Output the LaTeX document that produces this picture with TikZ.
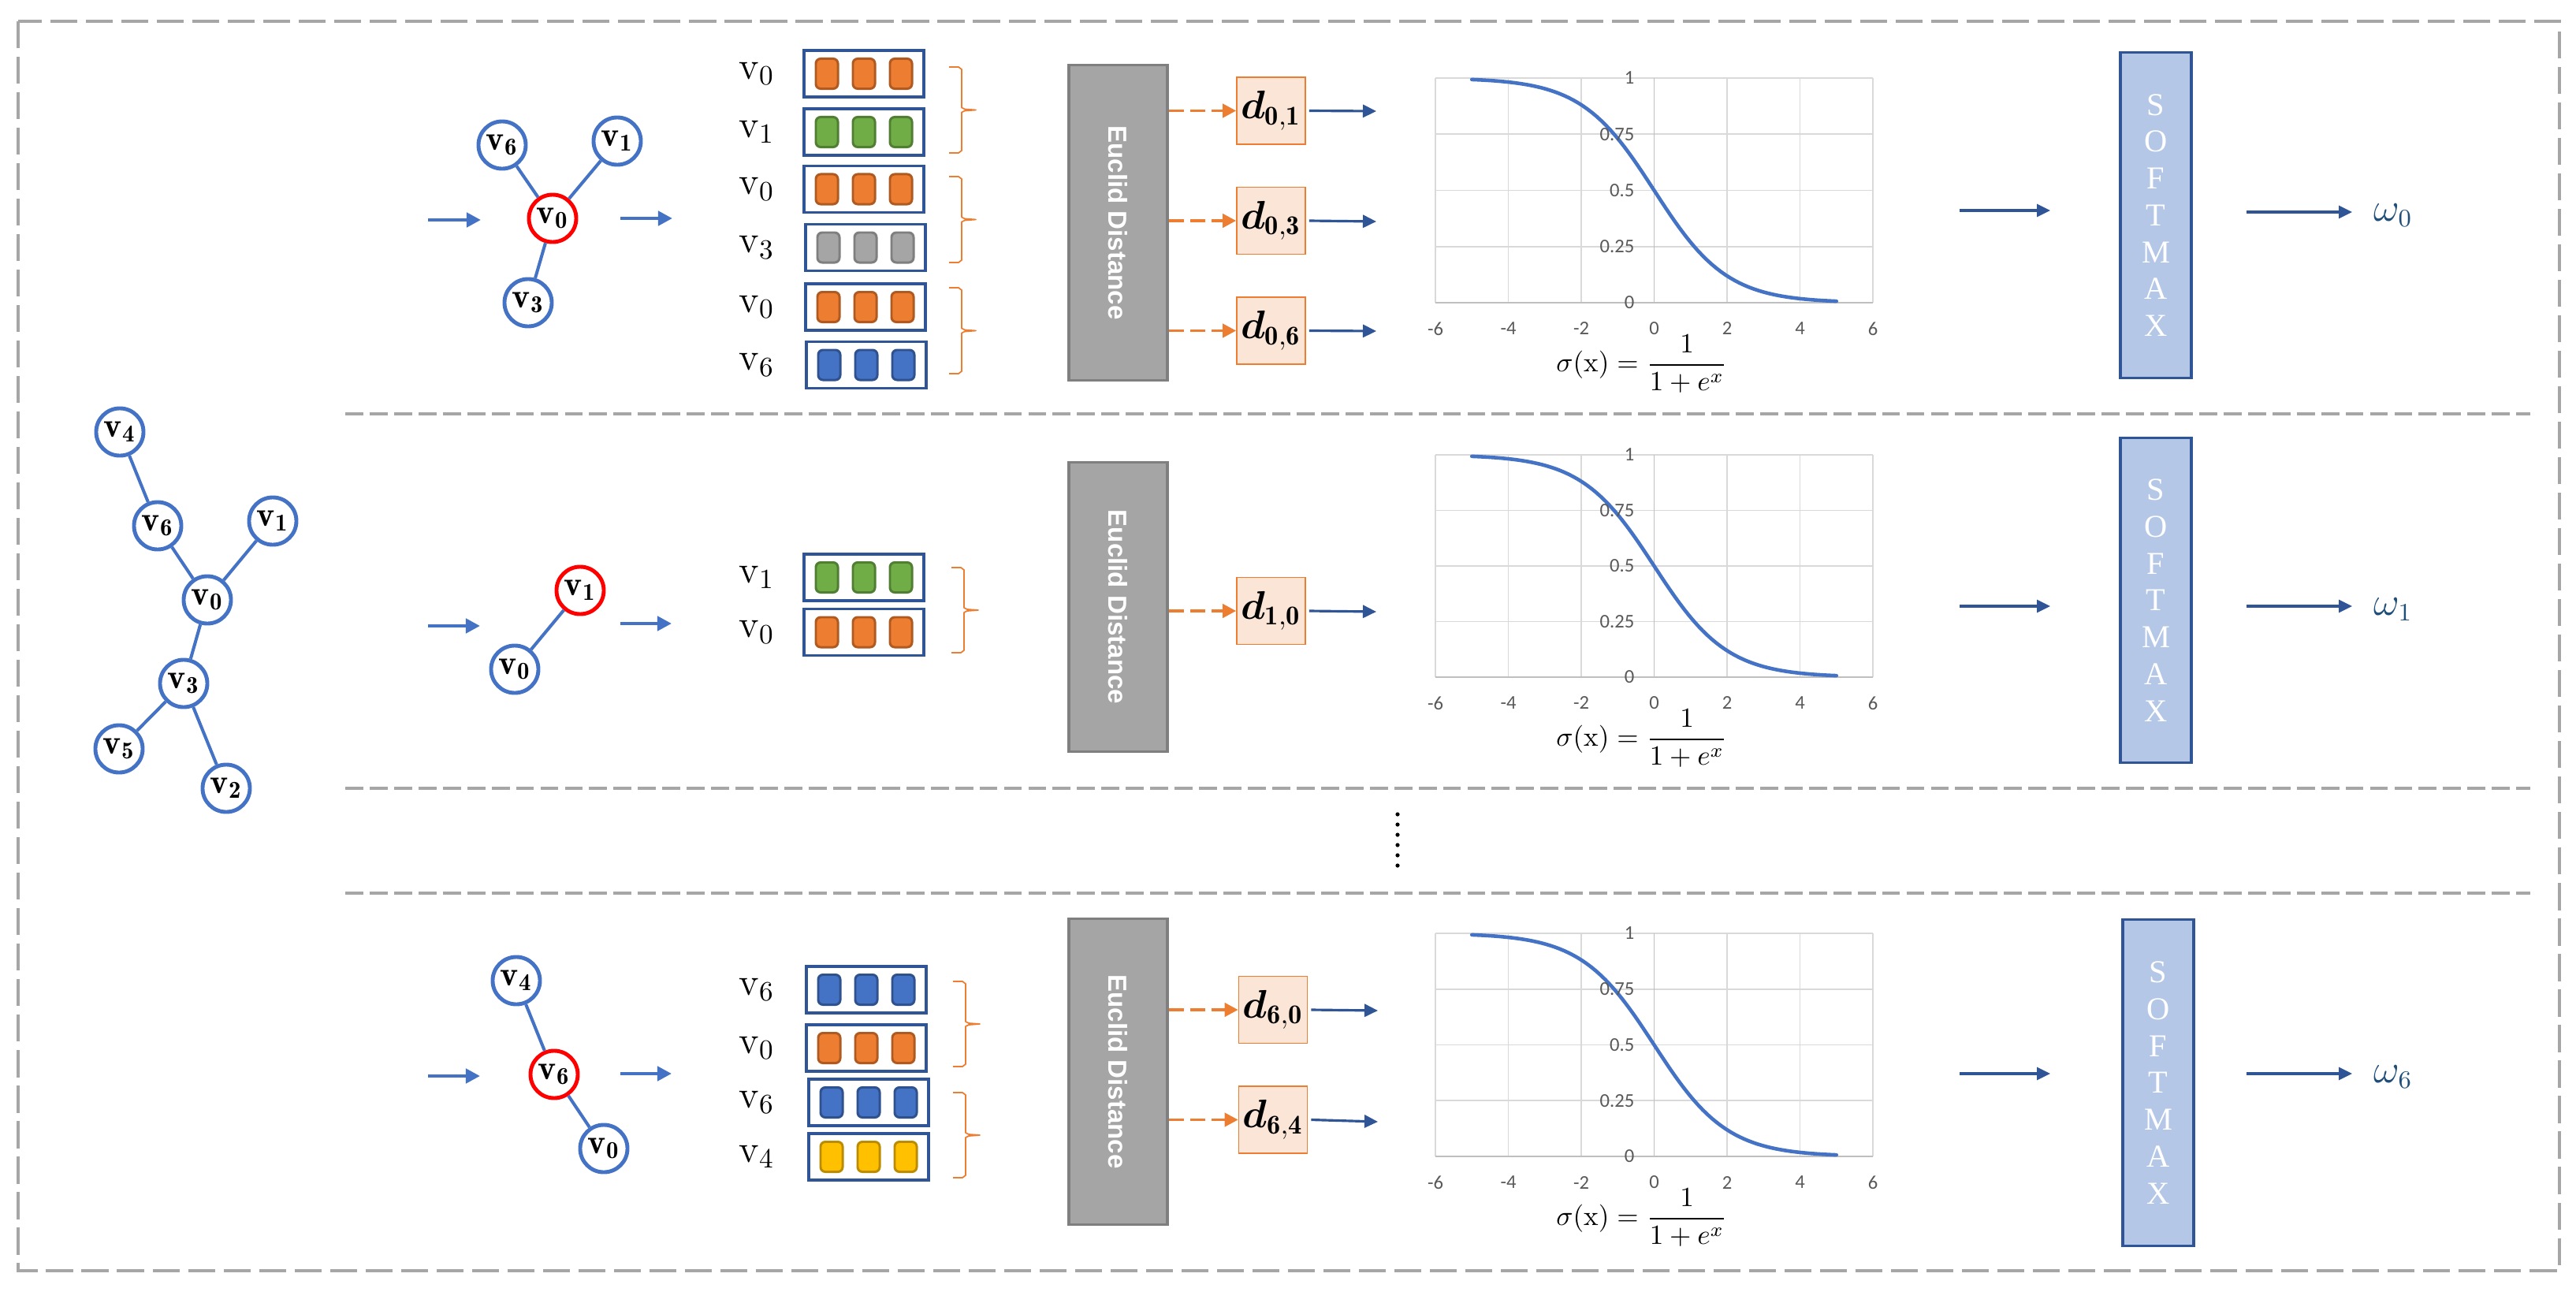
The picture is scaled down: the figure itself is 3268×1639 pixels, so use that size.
\documentclass[tikz,border=0pt]{standalone}
\usepackage{amsmath,bm}
\usepackage{fontspec}
\usetikzlibrary{arrows.meta,calc}
\newfontfamily\serifTNR{Liberation Serif}
\newfontfamily\sansArial{Liberation Sans}
\newfontfamily\calibri{Carlito}
\definecolor{gblue}{HTML}{4472C4}
\definecolor{dblue}{HTML}{2F5597}
\definecolor{orng}{HTML}{ED7D31}
\definecolor{orngD}{HTML}{AE5A21}
\definecolor{grn}{HTML}{70AD47}
\definecolor{grnD}{HTML}{507E32}
\definecolor{gry}{HTML}{A5A5A5}
\definecolor{gryD}{HTML}{7F7F7F}
\definecolor{blu}{HTML}{4472C4}
\definecolor{bluD}{HTML}{2F528F}
\definecolor{ylw}{HTML}{FFC000}
\definecolor{ylwD}{HTML}{BC8C00}
\definecolor{dfill}{HTML}{FBE5D6}
\definecolor{smfill}{HTML}{B4C7E7}
\definecolor{gridc}{HTML}{D9D9D9}
\definecolor{axisc}{HTML}{BFBFBF}
\definecolor{tickc}{HTML}{595959}
\definecolor{omegac}{HTML}{1F4E79}
\definecolor{framec}{HTML}{A6A6A6}

\tikzset{
  gnode/.style={circle, draw=gblue, line width=1.4pt, fill=white, minimum size=0.6cm, inner sep=0pt, font=\fontsize{12.5}{13}\selectfont},
  rnode/.style={gnode, draw=red},
  gedge/.style={gblue, line width=1.15pt},
  thickarrow/.style={gblue, line width=1.4pt, -{Triangle[length=0.18cm,width=0.18cm]}},
  vecbox/.style={draw=dblue, line width=0.9pt, fill=white, minimum width=1.52cm, minimum height=0.59cm, inner sep=0pt},
  cell/.style={minimum width=0.28cm, minimum height=0.38cm, rounded corners=0.06cm, line width=0.85pt, inner sep=0pt},
  vlab/.style={font=\fontsize{14}{16}\selectfont, inner sep=0pt},
  brcline/.style={orng, line width=0.5pt, line join=round},
  eubox/.style={draw=gryD, fill=gry, line width=0.9pt, minimum width=1.25cm, inner sep=0pt},
  eutext/.style={text=white, font=\sansArial\bfseries\fontsize{9.4}{11}\selectfont, rotate=-90, inner sep=0pt},
  dbox/.style={draw=orng, fill=dfill, line width=0.45pt, minimum width=0.87cm, minimum height=0.85cm, inner sep=0pt, font=\fontsize{14}{16}\selectfont},
  dasharrow/.style={orng, line width=1.1pt, dash pattern=on 5.5pt off 2.3pt, -{Triangle[length=0.17cm,width=0.17cm]}},
  outarrow/.style={dblue, line width=0.9pt, -{Triangle[length=0.17cm,width=0.16cm]}},
  smbox/.style={draw=dblue, fill=smfill, line width=0.9pt, minimum width=0.9cm, inner sep=0pt, text=white, align=center, font=\serifTNR\fontsize{11.5}{13.3}\selectfont},
  omegalab/.style={text=omegac, font=\fontsize{13.5}{15}\selectfont, anchor=west, inner sep=0pt},
  gridl/.style={gridc, line width=0.55pt},
  axisl/.style={axisc, line width=0.55pt},
  sigcurve/.style={gblue, line width=1.3pt, line cap=round},
  ticklab/.style={text=tickc, font=\calibri\fontsize{7}{8}\selectfont, inner sep=0pt},
  formula/.style={font=\fontsize{10}{12}\selectfont, inner sep=0pt},
  outerframe/.style={framec, line width=1.1pt, dash pattern=on 9.7pt off 3.1pt},
  sepline/.style={framec, line width=1pt, dash pattern=on 6.5pt off 2.3pt},
}

\newcommand\vecrow[6]{%
  \node[vecbox] (#1) at (#2,#3) {};
  \foreach \dd [count=\k] in {-47,0,47} \node[cell,fill=#4,draw=#5] (#1c\k) at ({#2+\dd},#3) {};
  \node[vlab] (#1l) at (960,#3) {$\mathrm{v}_{#6}$};
}
\newcommand\orbr[3]{%
  \draw[brcline] (#1,#2) -- ({#1+12},#2) -- ({#1+16},{#2+3}) -- ({#1+16},{(#2+#3)/2-3}) -- ({#1+20},{(#2+#3)/2-1}) -- ({#1+34},{(#2+#3)/2}) -- ({#1+20},{(#2+#3)/2+1}) -- ({#1+16},{(#2+#3)/2+3}) -- ({#1+16},{#3-3}) -- ({#1+12},#3) -- (#1,#3);
}
\newcommand\sigchart[3]{%
  \foreach \uu in {-6,-4,-2,2,4,6} \draw[gridl] ({2098.5+46.25*\uu},#2) -- ({2098.5+46.25*\uu},#3);
  \foreach \vv in {0.25,0.5,0.75,1} \draw[gridl] (1821,{#3-(#3-#2)*\vv}) -- (2376,{#3-(#3-#2)*\vv});
  \draw[axisl] (2098.5,#2) -- (2098.5,#3);
  \draw[axisl] (1821,#3) -- (2376,#3);
  \draw[sigcurve] plot[domain=-5:5,samples=80] ({2098.5+46.25*\x},{#3-(#3-#2)/(1+exp(\x))});
  \foreach \vv [count=\i] in {0,0.25,0.5,0.75,1} \node[ticklab,anchor=east] (#1y\i) at (2074,{#3-(#3-#2)*\vv}) {\vv};
  \foreach \uu [count=\i] in {-6,-4,-2,0,2,4,6} \node[ticklab] (#1x\i) at ({2098.5+46.25*\uu},#3+33) {\uu};
  \node[formula] (#1f) at (2083,#3+78) {$\displaystyle\sigma(\mathrm{x})=\frac{1}{1+e^{x}}$};
}

\begin{document}
\begin{tikzpicture}[x=0.01cm,y=-0.01cm]
\fill[white] (0,0) rectangle (3268,1639);
\useasboundingbox (0,0) rectangle (3268,1639);

% frame and separators
\draw[outerframe] (23,27) rectangle (3247,1612);
\draw[sepline] (438,525) -- (3210,525);
\draw[sepline] (438,1000) -- (3210,1000);
\draw[sepline] (438,1133) -- (3210,1133);
\foreach \yy in {1033,1046,1059,1072,1085,1098} \fill[black] (1773,\yy) circle (2.6);

% big graph
\node[gnode] (g4) at (152,548) {$\mathbf{v}_{\mathbf{4}}$};
\node[gnode] (g6) at (200,667) {$\mathbf{v}_{\mathbf{6}}$};
\node[gnode] (g1) at (346,661) {$\mathbf{v}_{\mathbf{1}}$};
\node[gnode] (g0) at (263,761) {$\mathbf{v}_{\mathbf{0}}$};
\node[gnode] (g3) at (233,867) {$\mathbf{v}_{\mathbf{3}}$};
\node[gnode] (g5) at (151,950) {$\mathbf{v}_{\mathbf{5}}$};
\node[gnode] (g2) at (287,1000) {$\mathbf{v}_{\mathbf{2}}$};
\draw[gedge] (g4) -- (g6);
\draw[gedge] (g6) -- (g0);
\draw[gedge] (g0) -- (g1);
\draw[gedge] (g0) -- (g3);
\draw[gedge] (g3) -- (g5);
\draw[gedge] (g3) -- (g2);

% ===== row 1 =====
\node[gnode] (a6) at (637,184) {$\mathbf{v}_{\mathbf{6}}$};
\node[gnode] (a1) at (783,179) {$\mathbf{v}_{\mathbf{1}}$};
\node[rnode] (a0) at (701,277) {$\mathbf{v}_{\mathbf{0}}$};
\node[gnode] (a3) at (670,384) {$\mathbf{v}_{\mathbf{3}}$};
\draw[gedge] (a0) -- (a6);
\draw[gedge] (a0) -- (a1);
\draw[gedge] (a0) -- (a3);
\coordinate (ain1) at (543,279);
\coordinate (ain2) at (610,279);
\coordinate (aout1) at (787,277);
\coordinate (aout2) at (853,277);
\draw[thickarrow] (ain1) -- (ain2);
\draw[thickarrow] (aout1) -- (aout2);

\vecrow{ra1}{1096}{93.5}{orng}{orngD}{0}
\vecrow{ra2}{1096}{167.5}{grn}{grnD}{1}
\vecrow{ra3}{1096}{240}{orng}{orngD}{0}
\vecrow{ra4}{1098}{314}{gry}{gryD}{3}
\vecrow{ra5}{1098}{389.5}{orng}{orngD}{0}
\vecrow{ra6}{1099}{463}{blu}{bluD}{6}
\orbr{1204}{85}{194}
\orbr{1204}{224}{333}
\orbr{1204}{365}{474}

\node[eubox, minimum height=3.99cm] (eu1) at (1418.5,282.5) {};
\node[eutext] (eut1) at (eu1.center) {Euclid Distance};
\node[dbox] (d01) at (1612.5,140.5) {$\boldsymbol{d}_{\mathbf{0,1}}$};
\node[dbox] (d03) at (1612.5,280) {$\boldsymbol{d}_{\mathbf{0,3}}$};
\node[dbox] (d06) at (1612.5,419.5) {$\boldsymbol{d}_{\mathbf{0,6}}$};
\draw[dasharrow] (eu1.east |- d01.west) -- (d01.west);
\draw[dasharrow] (eu1.east |- d03.west) -- (d03.west);
\draw[dasharrow] (eu1.east |- d06.west) -- (d06.west);
\coordinate (d01e) at (1746,141);
\coordinate (d03e) at (1746,281);
\coordinate (d06e) at (1746,420);
\draw[outarrow] ([xshift=0.04cm]d01.east) -- (d01e);
\draw[outarrow] ([xshift=0.04cm]d03.east) -- (d03e);
\draw[outarrow] ([xshift=0.04cm]d06.east) -- (d06e);

\sigchart{ca}{99}{384}

\coordinate (sa1) at (2486,267);
\coordinate (sa2) at (2601,267);
\draw[outarrow] (sa1) -- (sa2);
\node[smbox, minimum height=4.12cm] (sm1) at (2735,273) {S\\O\\F\\T\\M\\A\\X};
\coordinate (oa1) at (2850,269);
\coordinate (oa2) at (2984,269);
\draw[outarrow] (oa1) -- (oa2);
\node[omegalab] (w0) at (3011,273) {$\omega_0$};

% ===== row 2 =====
\node[rnode] (b1) at (736,749) {$\mathbf{v}_{\mathbf{1}}$};
\node[gnode] (b0) at (653,849) {$\mathbf{v}_{\mathbf{0}}$};
\draw[gedge] (b1) -- (b0);
\coordinate (bin1) at (543,794);
\coordinate (bin2) at (609,794);
\coordinate (bout1) at (787,791);
\coordinate (bout2) at (852,791);
\draw[thickarrow] (bin1) -- (bin2);
\draw[thickarrow] (bout1) -- (bout2);

\vecrow{rb1}{1096}{732.5}{grn}{grnD}{1}
\vecrow{rb2}{1096}{802}{orng}{orngD}{0}
\orbr{1207}{720}{828}

\node[eubox, minimum height=3.66cm] (eu2) at (1418.5,770) {};
\node[eutext] (eut2) at (eu2.center) {Euclid Distance};
\node[dbox] (d10) at (1612.5,775) {$\boldsymbol{d}_{\mathbf{1,0}}$};
\draw[dasharrow] (eu2.east |- d10.west) -- (d10.west);
\coordinate (d10e) at (1746,776);
\draw[outarrow] ([xshift=0.04cm]d10.east) -- (d10e);

\sigchart{cb}{577}{859}

\coordinate (sb1) at (2486,769);
\coordinate (sb2) at (2601,769);
\draw[outarrow] (sb1) -- (sb2);
\node[smbox, minimum height=4.11cm] (sm2) at (2735,761.5) {S\\O\\F\\T\\M\\A\\X};
\coordinate (ob1) at (2850,769);
\coordinate (ob2) at (2984,769);
\draw[outarrow] (ob1) -- (ob2);
\node[omegalab] (w1) at (3011,773) {$\omega_1$};

% ===== row 3 =====
\node[gnode] (c4) at (655,1244) {$\mathbf{v}_{\mathbf{4}}$};
\node[rnode] (c6) at (703,1363) {$\mathbf{v}_{\mathbf{6}}$};
\node[gnode] (c0) at (766,1457) {$\mathbf{v}_{\mathbf{0}}$};
\draw[gedge] (c6) -- (c4);
\draw[gedge] (c6) -- (c0);
\coordinate (cin1) at (543,1365);
\coordinate (cin2) at (609,1365);
\coordinate (cout1) at (787,1362);
\coordinate (cout2) at (852,1362);
\draw[thickarrow] (cin1) -- (cin2);
\draw[thickarrow] (cout1) -- (cout2);

\vecrow{rc1}{1099}{1255.5}{blu}{bluD}{6}
\vecrow{rc2}{1099}{1329.5}{orng}{orngD}{0}
\vecrow{rc3}{1102}{1398.5}{blu}{bluD}{6}
\vecrow{rc4}{1102}{1467.5}{ylw}{ylwD}{4}
\orbr{1209}{1245}{1353}
\orbr{1209}{1386}{1494}

\node[eubox, minimum height=3.87cm] (eu3) at (1418.5,1359.5) {};
\node[eutext] (eut3) at (eu3.center) {Euclid Distance};
\node[dbox] (d60) at (1615,1281) {$\boldsymbol{d}_{\mathbf{6,0}}$};
\node[dbox] (d64) at (1615,1420.5) {$\boldsymbol{d}_{\mathbf{6,4}}$};
\draw[dasharrow] (eu3.east |- d60.west) -- (d60.west);
\draw[dasharrow] (eu3.east |- d64.west) -- (d64.west);
\coordinate (d60e) at (1748,1282);
\coordinate (d64e) at (1748,1423);
\draw[outarrow] ([xshift=0.04cm]d60.east) -- (d60e);
\draw[outarrow] ([xshift=0.04cm]d64.east) -- (d64e);

\sigchart{cc}{1184}{1467}

\coordinate (sc1) at (2486,1362);
\coordinate (sc2) at (2601,1362);
\draw[outarrow] (sc1) -- (sc2);
\node[smbox, minimum height=4.13cm] (sm3) at (2738,1373.5) {S\\O\\F\\T\\M\\A\\X};
\coordinate (oc1) at (2850,1362);
\coordinate (oc2) at (2984,1362);
\draw[outarrow] (oc1) -- (oc2);
\node[omegalab] (w6) at (3011,1366) {$\omega_6$};
\end{tikzpicture}
\end{document}
